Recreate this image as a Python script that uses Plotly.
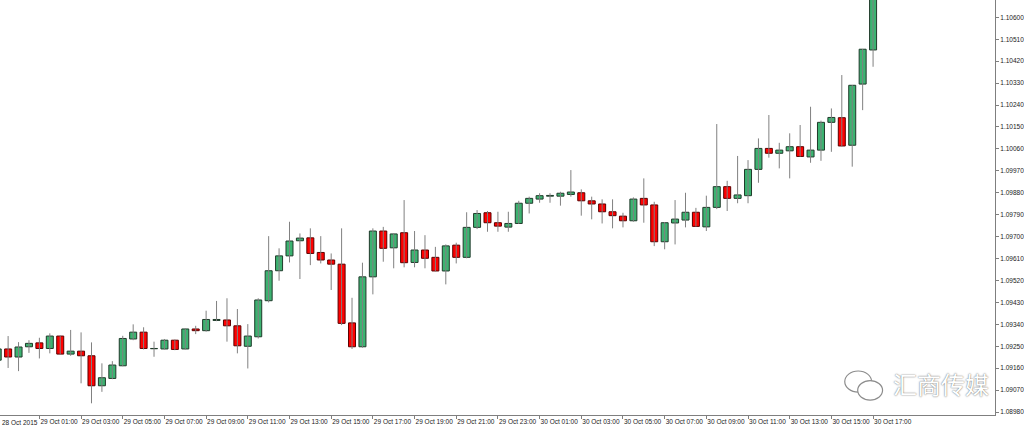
import plotly.graph_objects as go
import pandas as pd

# EURUSD M30, 28 Oct 2015 23:00 -> 30 Oct 2015 17:00
start_time = "2015-10-28 23:00"
n_bars = 85

opens = [
    1.09193, 1.09239, 1.09206, 1.09248, 1.09264, 1.09241, 1.09292, 1.09218, 1.09230, 1.09211,
    1.09088, 1.09118, 1.09170, 1.09280, 1.09308, 1.09240, 1.09239, 1.09275, 1.09239, 1.09321,
    1.09314, 1.09356, 1.09358, 1.09334, 1.09250, 1.09289, 1.09437, 1.09560, 1.09621, 1.09683,
    1.09695, 1.09635, 1.09604, 1.09587, 1.09346, 1.09248, 1.09535, 1.09723, 1.09654, 1.09716,
    1.09594, 1.09645, 1.09615, 1.09559, 1.09665, 1.09615, 1.09738, 1.09798, 1.09757, 1.09739,
    1.09754, 1.09837, 1.09854, 1.09866, 1.09866, 1.09873, 1.09880, 1.09847, 1.09834, 1.09802,
    1.09784, 1.09765, 1.09857, 1.09830, 1.09679, 1.09756, 1.09768, 1.09800, 1.09740, 1.09820,
    1.09905, 1.09857, 1.09868, 1.09976, 1.10062, 1.10042, 1.10052, 1.10069, 1.10027, 1.10055,
    1.10169, 1.10188, 1.10075, 1.10326, 1.10466,
]
highs = [
    1.09292, 1.09292, 1.09267, 1.09275, 1.09285, 1.09303, 1.09294, 1.09317, 1.09307, 1.09266,
    1.09180, 1.09189, 1.09293, 1.09340, 1.09328, 1.09269, 1.09280, 1.09278, 1.09323, 1.09334,
    1.09396, 1.09436, 1.09447, 1.09403, 1.09341, 1.09447, 1.09702, 1.09652, 1.09761, 1.09713,
    1.09734, 1.09702, 1.09631, 1.09734, 1.09449, 1.09593, 1.09734, 1.09740, 1.09713, 1.09850,
    1.09723, 1.09706, 1.09658, 1.09668, 1.09675, 1.09800, 1.09809, 1.09805, 1.09802, 1.09802,
    1.09847, 1.09864, 1.09878, 1.09878, 1.09884, 1.09973, 1.09894, 1.09864, 1.09853, 1.09853,
    1.09798, 1.09861, 1.09939, 1.09843, 1.09760, 1.09850, 1.09880, 1.09818, 1.09868, 1.10162,
    1.09929, 1.10031, 1.10014, 1.10103, 1.10199, 1.10085, 1.10124, 1.10158, 1.10233, 1.10176,
    1.10226, 1.10363, 1.10322, 1.10470, 1.10753,
]
lows = [
    1.09169, 1.09161, 1.09148, 1.09223, 1.09200, 1.09221, 1.09216, 1.09211, 1.09098, 1.09016,
    1.09063, 1.09115, 1.09168, 1.09275, 1.09237, 1.09207, 1.09237, 1.09234, 1.09237, 1.09300,
    1.09310, 1.09353, 1.09269, 1.09221, 1.09159, 1.09282, 1.09430, 1.09519, 1.09594, 1.09526,
    1.09583, 1.09590, 1.09481, 1.09337, 1.09239, 1.09244, 1.09463, 1.09597, 1.09570, 1.09574,
    1.09574, 1.09570, 1.09557, 1.09504, 1.09590, 1.09611, 1.09731, 1.09720, 1.09720, 1.09720,
    1.09752, 1.09795, 1.09839, 1.09839, 1.09827, 1.09864, 1.09786, 1.09771, 1.09754, 1.09734,
    1.09738, 1.09761, 1.09757, 1.09661, 1.09648, 1.09668, 1.09738, 1.09741, 1.09723, 1.09813,
    1.09805, 1.09837, 1.09837, 1.09921, 1.10024, 1.09980, 1.09939, 1.10028, 1.10003, 1.10011,
    1.10048, 1.10070, 1.09987, 1.10219, 1.10397,
]
closes = [
    1.09239, 1.09206, 1.09247, 1.09262, 1.09241, 1.09292, 1.09218, 1.09230, 1.09211, 1.09088,
    1.09121, 1.09173, 1.09282, 1.09308, 1.09241, 1.09241, 1.09275, 1.09237, 1.09321, 1.09314,
    1.09360, 1.09360, 1.09334, 1.09252, 1.09292, 1.09440, 1.09560, 1.09621, 1.09682, 1.09694,
    1.09631, 1.09604, 1.09587, 1.09344, 1.09248, 1.09535, 1.09723, 1.09652, 1.09711, 1.09593,
    1.09645, 1.09611, 1.09559, 1.09662, 1.09615, 1.09738, 1.09795, 1.09757, 1.09743, 1.09754,
    1.09837, 1.09857, 1.09868, 1.09869, 1.09878, 1.09883, 1.09847, 1.09834, 1.09802, 1.09786,
    1.09765, 1.09854, 1.09830, 1.09679, 1.09757, 1.09772, 1.09800, 1.09742, 1.09820, 1.09905,
    1.09857, 1.09871, 1.09976, 1.10062, 1.10042, 1.10055, 1.10069, 1.10029, 1.10055, 1.10169,
    1.10189, 1.10072, 1.10321, 1.10469, 1.10712,
]

price_ticks = [1.08980, 1.09070, 1.09160, 1.09250, 1.09340, 1.09430, 1.09520, 1.09610, 1.09700,
               1.09790, 1.09880, 1.09970, 1.10060, 1.10150, 1.10240, 1.10330, 1.10420, 1.10510,
               1.10600]
first_label = "28 Oct 2015"
time_ticks = pd.date_range("2015-10-29 01:00", "2015-10-30 17:00", freq="2h")

UP = "#3cb371"
DOWN = "#ff0000"
UP_EDGE = "#1f3a2a"
DOWN_EDGE = "#5c0000"
WICK = "#808080"

times = pd.date_range(start_time, periods=n_bars, freq="30min")

# wicks as one broken line
wx, wy = [], []
for t, h, l in zip(times, highs, lows):
    wx += [t, t, None]
    wy += [l, h, None]

bases = [min(o, c) for o, c in zip(opens, closes)]
heights = [max(abs(c - o), 0.00001) for o, c in zip(opens, closes)]
fills = [UP if c >= o else DOWN for o, c in zip(opens, closes)]
edges = [UP_EDGE if c >= o else DOWN_EDGE for o, c in zip(opens, closes)]

fig = go.Figure()
fig.add_trace(go.Scatter(x=wx, y=wy, mode="lines",
                         line=dict(color=WICK, width=1), hoverinfo="skip"))
fig.add_trace(go.Bar(x=times, y=heights, base=bases, width=1.21e6,
                     marker=dict(color=fills, line=dict(color=edges, width=1))))

tick_font = dict(family="Liberation Sans, Arial, sans-serif", size=6.5, color="#222222")

fig.update_layout(
    width=1024, height=429,
    margin=dict(l=0, r=29, t=0, b=14),
    paper_bgcolor="white", plot_bgcolor="white",
    showlegend=False,
    xaxis=dict(
        type="date",
        range=["2015-10-28 23:06:37", "2015-10-30 22:51:00"],
        tickvals=time_ticks,
        tickformat="%d %b %H:%M", tickangle=0,
        ticklabelposition="outside right",
        ticks="outside", ticklen=3, tickcolor="#7f7f7f",
        showline=True, linecolor="#7f7f7f", linewidth=1,
        showgrid=False, zeroline=False, tickfont=tick_font,
        automargin=False,
    ),
    yaxis=dict(
        side="right",
        range=[1.08968, 1.10671],
        tickvals=price_ticks, tickformat=".5f",
        ticks="outside", ticklen=3, tickcolor="#7f7f7f",
        showline=True, linecolor="#7f7f7f", linewidth=1,
        showgrid=False, zeroline=False, tickfont=tick_font,
        automargin=False,
    ),
)

# first date label, at the very left edge
fig.add_annotation(xref="paper", yref="paper", x=0, y=0, yshift=-2,
                   xanchor="left", yanchor="top", text=first_label,
                   showarrow=False, font=tick_font)

# watermark
fig.add_shape(type="circle", xref="paper", yref="paper",
              x0=0.849, x1=0.876, y0=0.055, y1=0.106,
              line=dict(color="#8c8c8c", width=1.2), fillcolor="white")
fig.add_shape(type="circle", xref="paper", yref="paper",
              x0=0.862, x1=0.887, y0=0.036, y1=0.083,
              line=dict(color="#8c8c8c", width=1.2), fillcolor="white")
fig.add_annotation(xref="paper", yref="paper", x=0.946, y=0.075,
                   xanchor="center", yanchor="middle",
                   text="汇商传媒", showarrow=False,
                   font=dict(family="Noto Sans CJK SC", size=24, color="white",
                             shadow="0px 0px 1.5px #444"))

fig.write_html("out.html", config={"displayModeBar": False},
               post_script="document.body.style.margin='0';")
